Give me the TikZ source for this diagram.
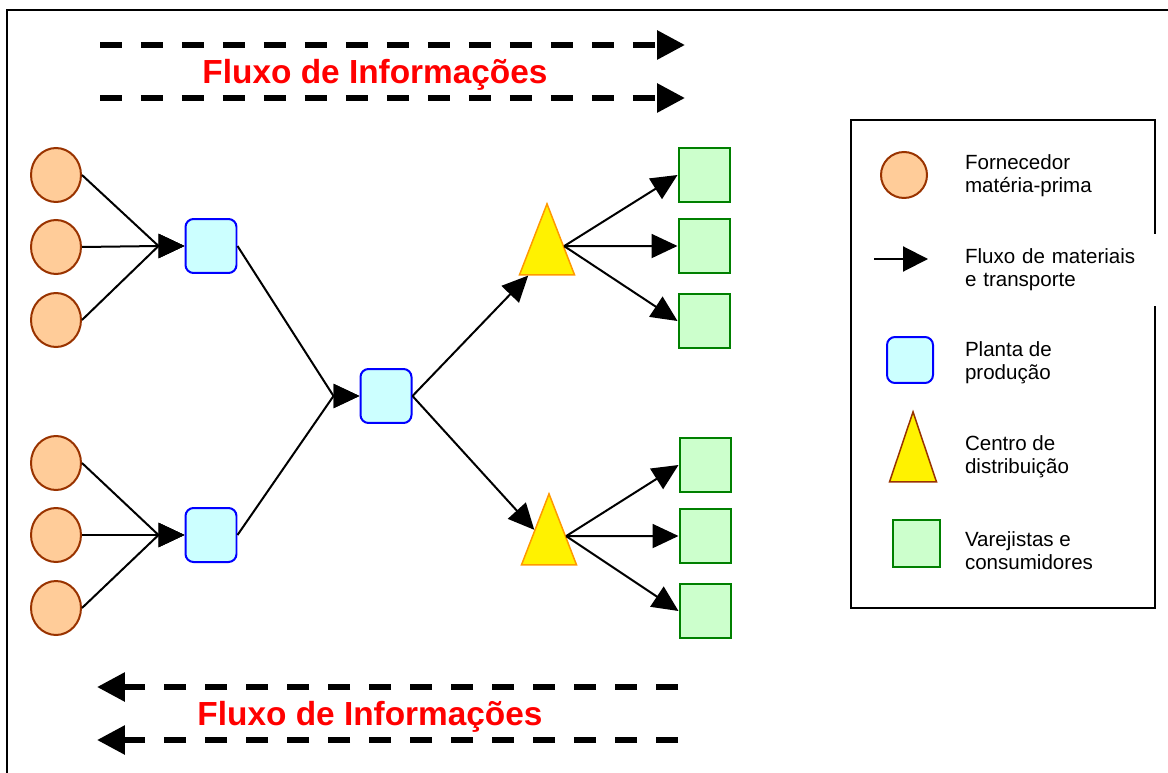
\documentclass[tikz,border=0pt]{standalone}
\usepackage{fontspec}
\setmainfont{Liberation Sans}
\usepackage{xcolor}
\usepackage{tikz}
\usetikzlibrary{arrows.meta,shapes.geometric}
\definecolor{pessego}{HTML}{FFCC99}
\definecolor{marrom}{HTML}{993300}
\definecolor{ciano}{HTML}{CCFFFF}
\definecolor{verdec}{HTML}{CCFFCC}
\definecolor{verdee}{HTML}{008000}
\definecolor{laranja}{HTML}{FF9900}

\begin{document}
\begin{tikzpicture}[x=0.02cm,y=-0.02cm,line width=0.04cm,
  >={Triangle[length=0.52cm,width=0.48cm]},
  forn/.style={ellipse,draw=marrom,fill=pessego,minimum width=1cm,minimum height=1.08cm,inner sep=0pt},
  planta/.style={rectangle,rounded corners=0.16cm,draw=blue,fill=ciano,minimum width=1.02cm,minimum height=1.08cm,inner sep=0pt},
  centro/.style={isosceles triangle,isosceles triangle stretches,shape border rotate=90,draw=laranja,fill=yellow,
    line width=0.03cm,minimum width=1.1cm,minimum height=1.42cm,inner sep=0pt},
  varejo/.style={rectangle,draw=verdee,fill=verdec,minimum width=1.02cm,minimum height=1.08cm,inner sep=0pt},
  info/.style={line width=0.12cm,dash pattern=on 0.44cm off 0.38cm,-{Triangle[length=0.56cm,width=0.56cm]}},
  titulo/.style={text=red,font=\fontsize{19}{22}\selectfont\bfseries},
  legenda/.style={anchor=west,align=left,inner sep=0pt,font=\fontsize{11.7}{13}\selectfont}]
  \useasboundingbox (0,0) rectangle (1168,773);
  \draw[line width=0.05cm] (7,773) -- (7,10) -- (1168,10);

  % fornecedores
  \node[forn] (f1) at (56,175) {};
  \node[forn] (f2) at (56,247) {};
  \node[forn] (f3) at (56,320) {};
  \node[forn] (f4) at (56,463) {};
  \node[forn] (f5) at (56,535) {};
  \node[forn] (f6) at (56,608) {};
  % plantas
  \node[planta] (p1) at (211,246) {};
  \node[planta] (p2) at (211,535) {};
  \node[planta] (p3) at (386,396) {};
  % centros de distribuicao
  \node[centro] (c1) at (547,256) {};
  \node[centro] (c2) at (549,546) {};
  % varejistas
  \node[varejo] (v1) at (704,175) {};
  \node[varejo] (v2) at (704,246) {};
  \node[varejo] (v3) at (704,321) {};
  \node[varejo] (v4) at (705,465) {};
  \node[varejo] (v5) at (705,536) {};
  \node[varejo] (v6) at (705,611) {};

  % chegadas horizontais nas plantas
  \foreach \a/\b in {f1/p1,f2/p1,f3/p1,f4/p2,f5/p2,f6/p2,p1/p3,p2/p3}
    \draw[->] (\a.east) -- ([xshift=-0.52cm]\b.west) -- (\b.west);
  \path[->] (p3.east) edge (c1)
                      edge (c2)
            (c1.30) edge (v1.west)
                    edge (v2.west)
                    edge (v3.west)
            (c2.30) edge (v4.west)
                    edge (v5.west)
                    edge (v6.west);

  % fluxo de informacoes
  \coordinate (i1) at (100,45);  \coordinate (i2) at (685,45);
  \coordinate (i3) at (100,98);  \coordinate (i4) at (685,98);
  \coordinate (i5) at (678,687); \coordinate (i6) at (97,687);
  \coordinate (i7) at (678,740); \coordinate (i8) at (97,740);
  \draw[info] (i1) -- (i2);
  \draw[info] (i3) -- (i4);
  \draw[info] (i5) -- (i6);
  \draw[info] (i7) -- (i8);
  \node[titulo] (t1) at (375,75) {Fluxo de Informações};
  \node[titulo] (t2) at (370,717) {Fluxo de Informações};

  % legenda
  \draw[line width=0.04cm] (851,120) rectangle (1155,608);
  \node[circle,draw=marrom,fill=pessego,minimum size=0.92cm,inner sep=0pt] (lf) at (904,175) {};
  \node[legenda] (lt1) at (964,176) {Fornecedor\\matéria-prima};
  \coordinate (la1) at (874,259); \coordinate (la2) at (928,259);
  \draw[-{Triangle[length=0.5cm,width=0.5cm]}] (la1) -- (la2);
  \node[legenda,fill=white,text width=3.9cm,minimum height=1.44cm] (lt2) at (964,270) {Fluxo de materiais\\e transporte};
  \node[planta,minimum width=0.92cm,minimum height=0.92cm] (lp) at (910,360) {};
  \node[legenda] (lt3) at (964,363) {Planta de\\produção};
  \node[centro,draw=marrom,minimum width=0.94cm,minimum height=1.4cm] (lc) at (913,465) {};
  \node[legenda] (lt4) at (964,457) {Centro de\\distribuição};
  \node[varejo,minimum width=0.94cm,minimum height=0.94cm] (lv) at (916,543) {};
  \node[legenda] (lt5) at (964,551) {Varejistas e\\consumidores};
\end{tikzpicture}
\end{document}
